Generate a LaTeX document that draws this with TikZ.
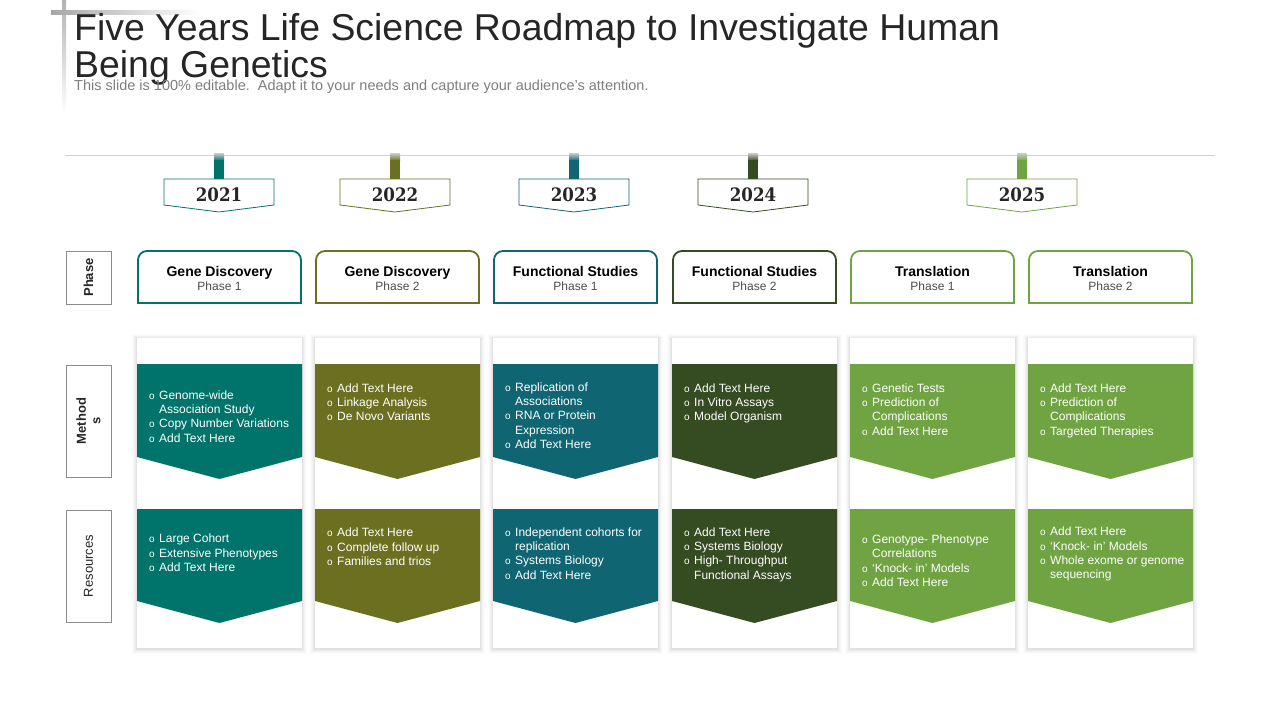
\documentclass[tikz,border=0pt]{standalone}
\usepackage{fontspec}
\setmainfont{Liberation Sans}
\newfontfamily\yearfont[FakeStretch=0.9]{DejaVu Serif}
\definecolor{cA}{HTML}{00736B}
\definecolor{cB}{HTML}{6B7020}
\definecolor{cC}{HTML}{106572}
\definecolor{cD}{HTML}{354B21}
\definecolor{cE}{HTML}{70A442}
\definecolor{titlec}{HTML}{262626}
\definecolor{subc}{HTML}{7F7F7F}
\definecolor{labc}{HTML}{8C8C8C}
\newcommand\bl{\makebox[10pt][l]{\fontsize{10}{10}\selectfont o}}
\newcommand\ct{\hspace*{10pt}}
\tikzset{
  card/.style={fill=white, draw=none, inner sep=0pt, minimum width=165pt, minimum height=310pt},
  labbox/.style={draw=labc, line width=0.8pt, fill=white, minimum width=45pt, inner sep=0pt},
  labtext/.style={rotate=90, font=\fontsize{13}{14}\selectfont, text=black!85, align=center},
  bullets/.style={anchor=north west, inner sep=0pt, align=left, text=white, font=\fontsize{12}{14.3}\selectfont},
  phtitle/.style={anchor=base, inner sep=0pt, font=\bfseries\fontsize{14}{16}\selectfont, text=black},
  phsub/.style={anchor=base, inner sep=0pt, font=\fontsize{12}{14}\selectfont, text=black!70},
  yeartext/.style={inner sep=0pt, font=\yearfont\bfseries\fontsize{18.5}{20}\selectfont, text=black!85}
}
\begin{document}
\begin{tikzpicture}[x=1pt,y=-1pt]
\useasboundingbox (0,0) rectangle (1280,720);
\fill[white] (0,0) rectangle (1280,720);
% title decoration
\shade[top color=black!30, bottom color=white] (62,0) rectangle (66,115);
\shade[left color=black!35, right color=white] (51,10) rectangle (200,14);
% title
\node[anchor=north west, inner sep=0pt, align=left, text=titlec, font=\fontsize{37.4}{37}\selectfont] (title) at (74,10)
  {\rule{0pt}{30pt}Five Years Life Science Roadmap to Investigate Human\\Being Genetics};
\node[anchor=base west, inner sep=0pt, text=subc, font=\fontsize{14.5}{16}\selectfont] (subtitle) at (74,90.5)
  {This slide is 100\% editable.\ \ Adapt it to your needs and capture your audience's attention.};
% timeline
\draw[black!18, line width=1pt] (65,155.5) -- (1215,155.5);
\foreach \xc/\col/\yr in {219/cA/2021, 395/cB/2022, 574/cC/2023, 753/cD/2024, 1022/cE/2025}{
  \shade[top color=black!20, bottom color=\col] (\xc-5,153) rectangle (\xc+5,161);
  \fill[\col] (\xc-5,160) rectangle (\xc+5,179);
  \filldraw[fill=white, draw=\col, line width=0.8pt] (\xc-55,179) -- (\xc+55,179) -- (\xc+55,205) -- (\xc,212) -- (\xc-55,205) -- cycle;
  \node[yeartext] (y\yr) at (\xc,194.7) {\yr};
}
% row labels
\node[labbox, minimum height=53pt] (labP) at (88.5,277.5) {};
\node[labtext, font=\bfseries\fontsize{13}{14}\selectfont] (labPt) at (labP) {Phase};
\node[labbox, minimum height=112pt] (labM) at (88.5,421) {};
\node[labtext, font=\bfseries\fontsize{13}{14.5}\selectfont] (labMt) at (labM) {Method\\s};
\node[labbox, minimum height=112pt] (labR) at (88.5,566) {};
\node[labtext] (labRt) at (labR) {Resources};
% columns
\foreach \L/\col/\n/\ta/\tb in {137/cA/1/Gene Discovery/Phase 1, 315/cB/2/Gene Discovery/Phase 2,
   493/cC/3/Functional Studies/Phase 1, 672/cD/4/Functional Studies/Phase 2,
   850/cE/5/Translation/Phase 1, 1028/cE/6/Translation/Phase 2}{
  % phase box
  \filldraw[fill=white, draw=\col, line width=1.8pt, rounded corners=9pt] (\L+1,303) -- (\L+1,251) -- (\L+164,251) -- (\L+164,303);
  \draw[\col, line width=1.8pt, line cap=rect] (\L+1,303) -- (\L+164,303);
  \node[phtitle] (pt\n) at (\L+82.5,276.5) {\ta};
  \node[phsub] (ps\n) at (\L+82.5,290.5) {\tb};
  % soft shadow + card
  \foreach \d/\o in {5/0.012, 4/0.016, 3/0.022, 2/0.028, 1/0.035}{
    \fill[black, opacity=\o] (\L-\d,338-\d+1) rectangle (\L+165+\d,648+\d+1);
  }
  \node[card] (card\n) at (\L+82.5,493) {};
  \fill[\col] (\L,364) -- (\L+165,364) -- (\L+165,457) -- (\L+82.5,479) -- (\L,457) -- cycle;
  \fill[\col] (\L,509) -- (\L+165,509) -- (\L+165,601) -- (\L+82.5,623) -- (\L,601) -- cycle;
}
% methods texts (anchor top = baseline - 10)
\node[bullets] (m1) at (149,389) {\rule{0pt}{10pt}\bl Genome-wide\\\ct Association Study\\\bl Copy Number Variations\\\bl Add Text Here};
\node[bullets] (m2) at (327,382) {\rule{0pt}{10pt}\bl Add Text Here\\\bl Linkage Analysis\\\bl De Novo Variants};
\node[bullets] (m3) at (505,381) {\rule{0pt}{10pt}\bl Replication of\\\ct Associations\\\bl RNA or Protein\\\ct Expression\\\bl Add Text Here};
\node[bullets] (m4) at (684,382) {\rule{0pt}{10pt}\bl Add Text Here\\\bl In Vitro Assays\\\bl Model Organism};
\node[bullets] (m5) at (862,382) {\rule{0pt}{10pt}\bl Genetic Tests\\\bl Prediction of\\\ct Complications\\\bl Add Text Here};
\node[bullets] (m6) at (1040,382) {\rule{0pt}{10pt}\bl Add Text Here\\\bl Prediction of\\\ct Complications\\\bl Targeted Therapies};
% resources texts
\node[bullets] (r1) at (149,532.7) {\rule{0pt}{10pt}\bl Large Cohort\\\bl Extensive Phenotypes\\\bl Add Text Here};
\node[bullets] (r2) at (327,526.7) {\rule{0pt}{10pt}\bl Add Text Here\\\bl Complete follow up\\\bl Families and trios};
\node[bullets] (r3) at (505,526) {\rule{0pt}{10pt}\bl Independent cohorts for\\\ct replication\\\bl Systems Biology\\\bl Add Text Here};
\node[bullets] (r4) at (684,526) {\rule{0pt}{10pt}\bl Add Text Here\\\bl Systems Biology\\\bl High- Throughput\\\ct Functional Assays};
\node[bullets] (r5) at (862,533.3) {\rule{0pt}{10pt}\bl Genotype- Phenotype\\\ct Correlations\\\bl `Knock- in' Models\\\bl Add Text Here};
\node[bullets] (r6) at (1040,525.7) {\rule{0pt}{10pt}\bl Add Text Here\\\bl `Knock- in' Models\\\bl Whole exome or genome\\\ct sequencing};
\end{tikzpicture}
\end{document}
